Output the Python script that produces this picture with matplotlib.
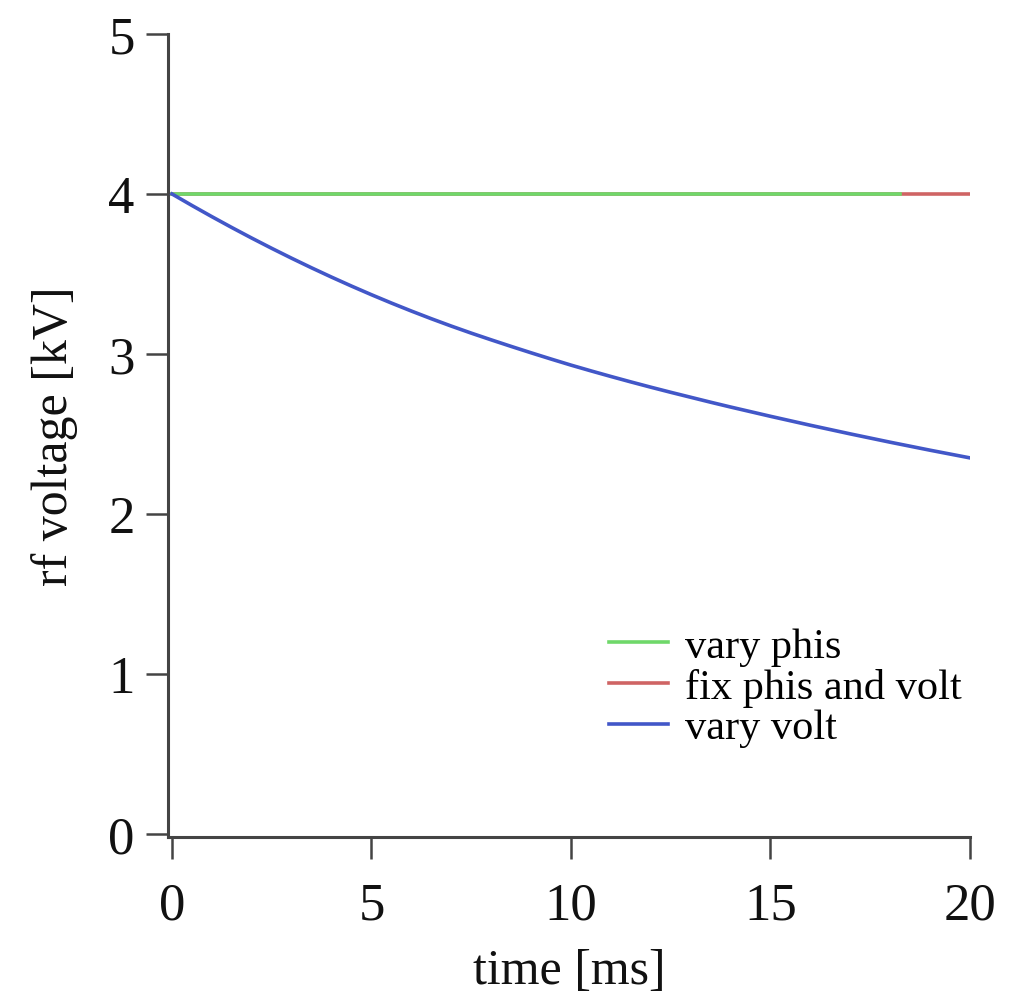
import numpy as np
import matplotlib
matplotlib.use("Agg")
import matplotlib.pyplot as plt

# time axis [ms] and rf voltage [kV]
time_ms = [0, 0.5, 1, 1.5, 2, 2.5, 3, 3.5, 4, 4.5, 5, 5.5, 6, 6.5, 7, 7.5, 8, 8.5, 9, 9.5,
           10, 10.5, 11, 11.5, 12, 12.5, 13, 13.5, 14, 14.5, 15, 15.5, 16, 16.5, 17, 17.5,
           18, 18.5, 19, 19.5, 20]
volt_vary_volt = [4.000, 3.928, 3.858, 3.790, 3.724, 3.660, 3.598, 3.538, 3.480, 3.424,
                  3.370, 3.318, 3.268, 3.220, 3.174, 3.130, 3.088, 3.047, 3.007, 2.968,
                  2.930, 2.894, 2.859, 2.825, 2.792, 2.760, 2.729, 2.698, 2.668, 2.639,
                  2.610, 2.582, 2.554, 2.527, 2.500, 2.474, 2.448, 2.423, 2.398, 2.374,
                  2.350]
time_vary_phis = [0, 18.25]
volt_vary_phis = [4.0, 4.0]
time_fixed = [0, 20]
volt_fixed = [4.0, 4.0]

x_ticks = [0, 5, 10, 15, 20]
y_ticks = [0, 1, 2, 3, 4, 5]

plt.rcParams["font.family"] = ["Liberation Serif", "DejaVu Serif"]

W, H = 1012, 995
fig = plt.figure(figsize=(W / 100, H / 100), dpi=100)
ax = fig.add_axes([168 / W, 1 - 838 / H, (970 - 168) / W, (838 - 35) / H])

c_green = "#6fd86a"
c_red = "#cf6464"
c_blue = "#4257c8"
lw = 2.6

ax.plot(time_fixed, volt_fixed, color=c_red, lw=lw, label="fix phis and volt", zorder=2)
ax.plot(time_vary_phis, volt_vary_phis, color=c_green, lw=lw, label="vary phis", zorder=3)
ax.plot(time_ms, volt_vary_volt, color=c_blue, lw=lw, label="vary volt", zorder=4,
        solid_joinstyle="round")

ax.set_xlim(-0.1, 20)
ax.set_ylim(-0.02, 5)
ax.set_xticks(x_ticks)
ax.set_yticks(y_ticks)

for s in ("top", "right"):
    ax.spines[s].set_visible(False)
ax.spines["left"].set_bounds(-0.02, 5)
ax.spines["bottom"].set_bounds(-0.1, 20)
for s in ("left", "bottom"):
    ax.spines[s].set_linewidth(2.2)
    ax.spines[s].set_color("#444444")

ax.tick_params(axis="both", direction="out", length=16, width=1.8, color="#444444",
               labelsize=38, labelcolor="#111111")
ax.tick_params(axis="x", pad=16)
ax.tick_params(axis="y", pad=8)

ax.set_xlabel("time [ms]", fontsize=36, color="#111111", labelpad=13)
ax.set_ylabel("rf voltage [kV]", fontsize=36, color="#111111", labelpad=22)

handles, labels = ax.get_legend_handles_labels()
order = [1, 0, 2]
ax.legend([handles[i] for i in order], [labels[i] for i in order],
          loc="upper left", bbox_to_anchor=(592 / W, 1 - 611 / H),
          bbox_transform=fig.transFigure, frameon=False, fontsize=30.5,
          handlelength=1.4, handletextpad=0.4, labelspacing=0.05, borderaxespad=0)

fig.savefig("out.png", dpi=100, facecolor="white")
